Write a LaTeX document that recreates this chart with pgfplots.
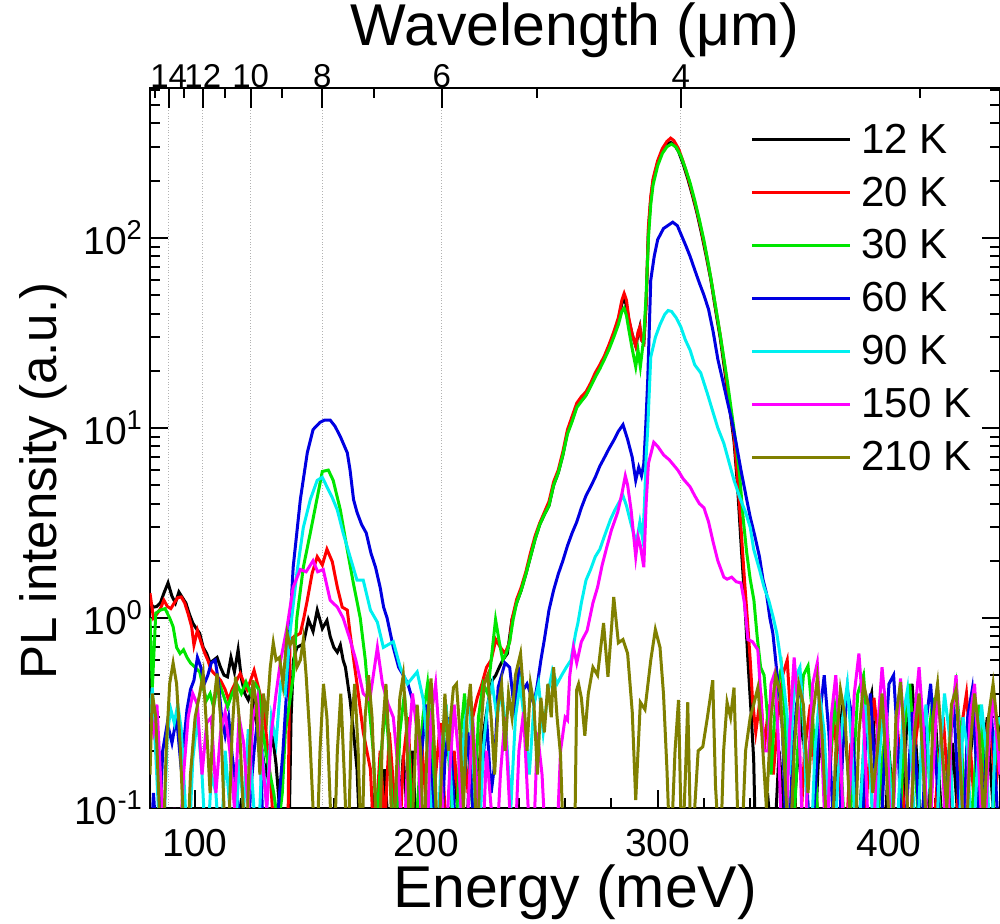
\documentclass[border=0pt]{standalone}
\usepackage{fontspec}
\setmainfont{Liberation Sans}
\usepackage{pgfplots}
\pgfplotsset{compat=1.18}
\definecolor{cBlack}{RGB}{0,0,0}
\definecolor{cRed}{RGB}{255,0,0}
\definecolor{cGreen}{RGB}{0,230,0}
\definecolor{cBlue}{RGB}{0,0,225}
\definecolor{cCyan}{RGB}{0,240,240}
\definecolor{cMag}{RGB}{255,0,255}
\definecolor{cOlive}{RGB}{128,128,0}
\begin{document}
\begin{tikzpicture}
\useasboundingbox (-75pt,-58pt) rectangle (425pt,404pt);
% top (wavelength) axis, drawn first so its grid stays behind the data
\begin{axis}[
  scale only axis, width=425pt, height=360pt,
  xmin=80.5, xmax=448, ymin=0, ymax=1,
  axis x line*=top, axis y line=none,
  axis line style={line width=1pt},
  every tick/.style={black, line width=1pt},
  xtick={88.571,103.333,124,155,206.667,310},
  xticklabels={14,12,10,8,6,4},
  minor xtick={82.667,95.385,112.727,137.778,177.143,248,413.333},
  xmajorgrids, major grid style={densely dotted, gray!60, line width=0.6pt},
  tick align=inside, major tick length=10pt, minor tick length=5pt,
  xticklabel style={font=\fontsize{16.5}{18}\selectfont, yshift=-3.5pt},
  xlabel={Wavelength (μm)},
  xlabel style={font=\fontsize{29.5}{33}\selectfont, at={(axis description cs:0.5,1)}, anchor=base, yshift=21pt, inner sep=0pt},
]
\end{axis}
\begin{axis}[
  scale only axis, width=425pt, height=360pt,
  xmin=80.5, xmax=448, ymode=log, ymin=0.1, ymax=615,
  axis line style={line width=1pt},
  every tick/.style={black, line width=1pt},
  major tick length=9pt, minor tick length=5pt, tick align=inside,
  xtick pos=left, ytick pos=both,
  xtick={100,200,300,400},
  minor xtick={120,140,160,180,220,240,260,280,320,340,360,380,420,440},
  ytick={0.1,1,10,100},
  yticklabels={10\textsuperscript{-1},10\textsuperscript{0},10\textsuperscript{1},10\textsuperscript{2}},
  minor ytick={0.2,0.3,0.4,0.5,0.6,0.7,0.8,0.9,2,3,4,5,6,7,8,9,20,30,40,50,60,70,80,90,200,300,400,500,600},
  /pgf/number format/assume math mode=true,
  ticklabel style={font=\fontsize{19.5}{22}\selectfont},
  xticklabel style={yshift=-7pt},
  xlabel={Energy (meV)}, ylabel={PL intensity (a.u.)},
  xlabel style={font=\fontsize{29.5}{33}\selectfont, at={(axis description cs:0.5,0)}, anchor=north, inner sep=0pt, yshift=-28pt},
  ylabel style={font=\fontsize{25.5}{29}\selectfont, at={(axis description cs:-0.125,0.454)}, anchor=center, inner sep=0pt},
  every axis plot/.append style={line width=1.5pt, no markers},
  legend style={draw=none, fill=none, at={(axis description cs:0.706,0.955)}, anchor=north west,
    font=\fontsize{21}{24}\selectfont, row sep=7.3pt, column sep=3.5pt, inner sep=0pt, nodes={inner sep=1.5pt}},
  legend cell align=left,
  legend image code/.code={\draw[#1] (0pt,0pt) -- (49pt,0pt);},
]
% 12 K
\addplot[cBlack] table {
80.5 1.2
82 1.14
83.5 1.15
85 1.2
86.5 1.35
88.3 1.53
90 1.3
91.5 1.2
93 1.37
94.5 1.28
96 1.2
97.5 1.05
99 0.94
100.5 0.88
102 0.83
103.5 0.7
105 0.65
106.5 0.58
108 0.6
109.5 0.62
111 0.55
112.5 0.5
114 0.49
115.5 0.62
117 0.52
118.6 0.68
120 0.48
121.5 0.4
123 0.37
124.5 0.42
126 0.3
127.5 0.25
129 0.2
130.5 0.15
132 0.19
133.5 0.24
135 0.17
136.5 0.1
138 0.06
139.5 0.05
140.5 0.06
141.5 0.3
142.5 0.6
144 0.7
146.8 0.73
149 0.98
151 0.85
152.8 1.1
155 0.88
157 0.97
158.4 0.8
160 0.7
161.5 0.66
162.8 0.72
164 0.6
165 0.55
167 0.37
168.5 0.25
170 0.16
171.5 0.06
173 0.05
175 0.05
177 0.12
179 0.05
182 0.16
184 0.06
187 0.05
190 0.19
192 0.08
194 0.2
196 0.06
199 0.05
202 0.14
204 0.05
207 0.12
209 0.05
212 0.17
214 0.08
217 0.05
219 0.22
221 0.1
223 0.18
224.7 0.25
226.5 0.35
228.5 0.47
230 0.5
231.5 0.55
233 0.6
235 0.65
237 0.98
239 1.2
241 1.4
243 1.7
245 2.1
247 2.6
249 3.1
251 3.5
253 3.9
255 5.0
257 5.8
259 7.2
261 9.5
263 11
265 13
267 14
269 15
271 16.8
273 19
275 21
277 23.5
279 27
281 31
283 37
284.5 45
285.5 48
286.5 44
287.5 37
289 31
290.5 27
291.5 31
292.3 34
293 29
294 28
295 45
296 110
297 160
298 200
300 250
302 285
304 310
305.6 318
307 312
309 285
311 245
313 205
315 168
317 135
319 105
321 80
323 60
325 42
327 30
329 20
331 13
333 8.5
334.5 5
336 2.5
337.5 1.3
339 0.6
340.5 0.3
341.5 0.18
342.5 0.05
345 0.05
347.5 0.12
350 0.05
352.5 0.2
355 0.08
357.5 0.05
360 0.15
362.5 0.3
365 0.1
367.5 0.05
370 0.25
372.5 0.12
375 0.05
377.5 0.18
380 0.35
382.5 0.15
385 0.05
387.5 0.1
390 0.3
392.5 0.4
395 0.12
397.5 0.05
400 0.2
402.5 0.08
405 0.05
407.5 0.25
410 0.45
412.5 0.15
415 0.05
417.5 0.12
420 0.3
422.5 0.1
425 0.05
427.5 0.22
430 0.08
432.5 0.05
435 0.18
437.5 0.35
440 0.15
442.5 0.3
445 0.1
448 0.2
};
\addlegendentry{12 K}
% 20 K
\addplot[cRed] table {
80.5 1.35
82 1.0
83.5 1.05
85 1.12
86.5 1.24
88 1.15
89.5 1.12
91 1.2
92.5 1.28
94 1.29
95.5 1.2
97 1.05
98.5 0.9
99.5 0.72
101 0.86
102.5 0.75
104 0.66
105.5 0.6
107 0.53
109 0.5
111 0.47
113 0.42
114.5 0.37
116 0.42
118 0.47
119.5 0.51
121 0.46
122.5 0.42
124 0.47
125.5 0.53
127 0.45
128.5 0.38
130 0.3
131.5 0.2
133 0.12
134.5 0.06
136 0.05
138 0.05
140 0.05
141 0.77
143 0.8
145.5 0.83
147 1.0
148.5 1.24
150.6 1.72
152.8 2.1
155 1.9
157 2.3
159.3 1.98
161.5 1.45
163.6 1.14
165.8 1.1
167 0.83
170 0.45
172.7 0.25
175.8 0.16
177.5 0.06
180 0.2
182 0.08
184 0.25
186 0.12
188 0.05
190 0.18
192 0.3
194 0.1
196 0.05
198 0.22
200 0.1
202 0.05
204 0.15
206 0.28
208 0.1
210 0.05
212 0.2
214 0.1
216 0.25
218 0.12
220 0.3
222 0.38
224 0.45
226 0.55
228 0.6
230 0.77
232 0.7
234 0.65
236 0.75
237 0.98
239 1.25
241 1.45
243 1.75
245 2.2
247 2.7
249 3.16
251 3.6
253 4.1
255 5.2
257 6.0
259 7.5
261 9.8
263 11.5
265 13.5
267 14.6
269 15.5
271 17.2
273 19.5
275 21.5
277 24
279 27.5
281 32
283 38
284.5 47
285.5 51
286.5 47
287.5 38
289 31
290.5 27
291.5 32
292.3 34
293 29
294 28
295 45
296 115
297 165
298 205
300 255
302 295
304 322
305.6 335
307 325
309 295
311 252
313 210
315 172
317 138
319 108
321 82
323 61
325 43
327 31
329 21
331 13.5
333 9
334.5 5.5
336 3
337.5 1.6
339 0.9
340 0.6
341 0.37
342.4 0.25
344.6 0.4
346 0.2
348 0.35
350 0.15
352 0.3
354 0.5
356 0.6
357.5 0.3
359 0.12
361 0.05
363.5 0.2
366 0.35
368.5 0.12
371 0.05
373.5 0.1
376 0.3
378.5 0.15
381 0.05
383.5 0.22
386 0.08
388.5 0.05
391 0.15
393.5 0.38
396 0.2
398.5 0.05
401 0.1
403.5 0.28
406 0.12
408.5 0.05
411 0.2
413.5 0.35
416 0.1
418.5 0.05
421 0.15
423.5 0.3
426 0.1
428.5 0.05
431 0.25
433.5 0.4
436 0.15
438.5 0.05
441 0.2
443.5 0.32
446 0.12
448 0.25
};
\addlegendentry{20 K}
% 30 K
\addplot[cGreen] table {
80.5 1.0
81.5 0.43
83 1.06
85 1.1
87 1.12
89 1.0
90.5 0.9
92 0.7
93.5 0.65
95 0.68
96.5 0.62
98 0.58
100 0.55
102 0.52
103.5 0.43
105 0.37
106.5 0.4
108 0.34
110 0.47
112 0.4
114 0.34
116 0.4
118 0.45
120 0.4
122 0.46
124 0.4
126 0.45
127.5 0.42
129 0.27
130.5 0.2
132 0.16
134 0.12
136 0.08
137.7 0.12
139 0.25
141 0.37
142.5 0.5
144 1.0
146.8 1.85
149.8 2.8
152.8 4.3
155 5.9
157.6 6.0
159.7 5.3
162.8 3.7
165.8 2.28
168.4 1.53
171.4 1.0
173.6 0.6
175 0.37
177 0.2
178.5 0.08
180.5 0.2
182.5 0.35
184.5 0.15
186.5 0.05
188.5 0.25
190.5 0.4
192.5 0.2
194.5 0.05
196.5 0.12
198.5 0.3
200.5 0.45
202.5 0.2
204.5 0.05
206.5 0.15
208.5 0.35
210.5 0.12
212.5 0.05
214.5 0.22
216.5 0.4
218.5 0.18
220.5 0.08
222.5 0.3
224.5 0.45
226.5 0.4
228 0.6
229.9 0.98
231.5 0.75
233 0.6
234.5 0.65
236 0.75
237.5 0.98
239 1.2
241 1.4
243 1.7
245 2.1
247 2.6
249 3.1
251 3.5
253 3.9
255 5.0
257 5.8
259 7.2
261 9.3
263 10.8
265 12.8
267 13.8
269 14.8
271 16.5
273 18.5
275 20.5
277 23
279 26
281 30
283 35
284.5 41
285.5 42.7
286.5 39
287.5 33
289 26
290.5 21
291.5 25.6
292.5 21
294 30
295 50
296 100
297 150
298 190
300 240
302 278
304 302
306 312
308 300
310 270
312 232
314 195
316 158
318 125
320 97
322 72
324 52
326 37
328 26
330 18
332 12
334 8
335.5 5.5
337 3.3
338.5 2.2
340 1.6
341.6 1.24
343 0.8
344.5 0.55
346 0.5
347.5 0.3
349 0.15
350.5 0.3
352 0.45
353.5 0.55
355 0.3
356.5 0.1
358 0.05
360.5 0.2
363 0.5
365 0.56
367 0.3
369 0.1
371.5 0.05
374 0.15
376.5 0.35
379 0.2
381.5 0.05
384 0.12
386.5 0.4
389 0.5
391.5 0.2
394 0.05
396.5 0.15
399 0.3
401.5 0.1
404 0.05
406.5 0.25
409 0.45
411.5 0.15
414 0.05
416.5 0.2
419 0.38
421.5 0.12
424 0.05
426.5 0.3
429 0.45
431.5 0.2
434 0.05
436.5 0.12
439 0.35
441.5 0.15
444 0.05
446.5 0.25
448 0.3
};
\addlegendentry{30 K}
% 60 K
\addplot[cBlue] table {
80.5 0.05
82 0.12
84 0.05
86 0.2
88 0.28
90 0.22
92 0.3
94 0.16
96.5 0.33
98 0.42
99.5 0.47
101 0.62
102.5 0.55
104 0.45
105.5 0.5
107 0.58
108.7 0.6
110 0.47
111.5 0.3
113 0.24
114.5 0.3
116 0.19
118 0.12
120 0.08
122 0.05
124 0.12
125.5 0.2
127 0.29
128.5 0.15
130 0.05
132 0.08
134 0.05
136 0.1
138 0.2
139.5 0.4
141 0.9
142.4 1.85
145.5 4.2
148.5 7.4
151 9.8
154 10.7
156 11
158.4 11
160.5 10.2
162.8 9.0
165.8 7.4
167 6.0
168.5 4.2
170 3.6
172 3.1
174 2.8
176 2.2
178 1.85
180 1.45
181.5 1.14
183 1.0
185.7 0.7
188 0.55
190 0.5
192 0.45
194 0.37
196 0.3
198 0.2
200 0.35
202 0.15
204 0.06
206 0.05
208 0.18
210 0.3
212 0.1
214 0.05
216 0.12
218 0.25
220 0.1
222 0.05
224 0.15
226 0.3
228 0.12
229.5 0.17
231 0.43
232.5 0.5
234 0.58
236 0.55
238 0.33
240 0.53
242 0.42
243.5 0.45
245 0.4
246.5 0.35
248 0.45
249.5 0.6
251 0.77
253 1.1
255 1.4
257 1.7
259 2.0
261 2.4
263 2.8
265 3.2
267 3.8
269 4.4
271 4.9
273 5.5
275 6.3
277 7.0
279 7.8
281 8.6
283 9.6
285 10.4
287 8.7
289 7.0
290.5 5.3
291.8 6.2
293 5.6
294 6.5
294.8 10
295.7 18
297 60
298.5 80
300 98
302.5 112
306.5 121
308.5 116
310 105
312 92
314 80
316 68
318 58
320 50
322 42
324 32
326 23
328 18
330 14
332 11
334 8.2
336 6.0
338 4.5
340 3.4
342 2.7
344 2.1
345.5 1.6
347 1.35
348.5 1.0
349.8 0.83
351 0.6
352 0.45
353 0.37
354 0.25
355 0.1
356.5 0.05
358 0.15
360 0.35
362 0.45
364 0.2
366 0.05
368 0.12
370 0.3
372 0.5
374 0.25
376 0.08
378 0.05
380 0.2
382 0.42
384 0.3
386 0.1
388 0.05
390 0.25
392 0.4
394 0.15
396 0.05
398 0.18
400 0.45
402 0.5
404 0.2
406 0.05
408 0.12
410 0.32
412 0.15
414 0.05
416 0.28
418 0.45
420 0.2
422 0.08
424 0.05
426 0.2
428 0.35
430 0.12
432 0.05
434 0.3
436 0.42
438 0.15
440 0.05
442 0.2
444 0.35
446 0.15
448 0.05
};
\addlegendentry{60 K}
% 90 K
\addplot[cCyan] table {
80.5 0.3
81.5 0.43
83 0.19
84.5 0.08
86 0.05
88 0.25
89.5 0.33
91 0.28
92.5 0.35
94 0.26
95.5 0.12
97 0.05
99 0.18
101 0.3
103 0.15
105 0.05
107 0.15
109 0.12
111 0.05
113 0.2
115 0.1
117 0.05
119 0.18
121 0.1
123 0.26
125 0.12
127 0.05
129 0.2
131 0.1
133 0.3
135 0.22
137 0.45
139 0.4
141 0.83
144 1.72
146.8 3.0
149.8 4.2
152.8 5.3
155 5.5
157 4.9
159.3 4.3
161.5 3.7
164 2.8
167 2.1
170 1.58
172.7 1.58
175.8 1.1
178.8 0.95
181.4 0.7
185.7 0.75
188.7 0.55
191.8 0.45
196 0.52
198.7 0.37
200.5 0.2
202.5 0.08
204.5 0.05
206.5 0.2
208.5 0.35
210.5 0.15
212.5 0.05
214.5 0.1
216.5 0.28
218.5 0.38
220.5 0.15
222.5 0.05
224.5 0.2
226.5 0.35
228.5 0.45
230.5 0.3
232.5 0.42
234.5 0.25
236.5 0.1
238.5 0.3
240.5 0.45
242.5 0.28
244.5 0.15
246.5 0.35
248.5 0.45
250.5 0.25
252.5 0.4
254.5 0.53
256.5 0.45
258.5 0.5
260.5 0.55
262.5 0.6
264.5 0.83
265.5 0.94
267 1.2
269 1.58
271 1.8
273 2.1
275 2.3
277 2.7
279.6 3.3
281.5 3.7
283 4.0
285 4.4
286.5 3.9
288 3.3
289.5 2.8
290.5 2.6
291.3 2.7
292.3 3.2
293.5 2.6
294.3 4
295 7
295.7 10
297 23.6
299 30
301 35
303 39.5
304.5 41.5
306 41
308 38
310 34
312 29
314 25.7
316 21.5
318.6 19.5
321.6 15
324 12
326 10
328.6 8.3
331 6.5
333 5.3
335.5 4.3
338 3.6
340 3.0
341.5 2.3
344 1.8
346 1.45
348 1.24
350 1.0
351.5 0.83
352.8 0.65
354.5 0.45
356 0.3
357 0.15
358.5 0.35
360 0.5
361.5 0.55
363 0.3
364.5 0.1
366 0.05
368 0.2
370 0.4
372 0.25
374 0.08
376 0.05
378 0.15
380 0.3
382 0.45
384 0.2
386 0.05
388 0.12
390 0.35
392 0.15
394 0.05
396 0.2
398 0.38
400 0.18
402 0.05
404 0.1
406 0.3
408 0.42
410 0.15
412 0.05
414 0.22
416 0.35
418 0.1
420 0.05
422 0.18
424 0.4
426 0.25
428 0.08
430 0.05
432 0.3
434 0.2
436 0.05
438 0.15
440 0.35
442 0.2
444 0.05
446 0.25
448 0.3
};
\addlegendentry{90 K}
% 150 K
\addplot[cMag] table {
80.5 0.3
82 0.25
83.5 0.35
85 0.15
87 0.06
89 0.05
91 0.1
93 0.05
95 0.15
97 0.3
99 0.4
101 0.35
103 0.15
105 0.28
107 0.3
109 0.12
111 0.25
113 0.32
115 0.2
117 0.1
119 0.3
121 0.22
123 0.1
125 0.3
127 0.38
129 0.18
131 0.1
133 0.25
135 0.4
137 0.6
139.8 0.9
142.4 1.45
145.5 1.8
148 1.75
151 2.0
153 1.75
155.4 1.8
158.4 1.24
161.5 1.14
164 1.0
167 0.77
169.5 0.6
172.7 0.4
175.5 0.37
178.8 0.7
181 0.45
183.5 0.35
185.7 0.3
188 0.15
190 0.05
192 0.2
194 0.4
196 0.25
198 0.08
200 0.05
202 0.3
204 0.45
206 0.2
208 0.05
210 0.15
212 0.35
214 0.18
216 0.05
218 0.1
220 0.3
222 0.12
224 0.05
226 0.2
228 0.1
230 0.05
232 0.15
234 0.3
236 0.1
238 0.05
240 0.2
242 0.32
244 0.1
246 0.05
248 0.25
250 0.15
252 0.05
254 0.1
256 0.05
258 0.2
260 0.3
261 0.29
262 0.5
263.6 0.7
265 0.58
267 0.75
269.5 0.86
272 1.2
274 1.45
276 1.9
278 2.36
280 2.9
282.7 3.6
284.5 4.5
286 5.6
287 5.0
288.5 3.7
289.5 2.8
290.5 2.1
291.5 2.67
292.5 2.4
294 1.85
295 4
296 6.5
298.3 8.4
300 8.0
302.6 7.2
305 6.8
308.7 6.0
311 5.4
314 4.9
316 4.4
318 4.0
320 3.8
322 3.2
324 2.5
326 2.0
328.6 1.64
330 1.6
332 1.64
334 1.55
336 1.53
337.5 1.2
339 0.77
341 0.75
343.3 0.68
344.5 0.4
346 0.2
347.6 0.2
349 0.45
350.5 0.51
352 0.25
353.5 0.08
355 0.05
357 0.25
359 0.62
361 0.3
363 0.05
365 0.15
367 0.45
369 0.58
371 0.2
373 0.05
375 0.3
377 0.5
379 0.2
381 0.05
383 0.12
385 0.4
387 0.65
389 0.3
391 0.08
393 0.05
395 0.25
397 0.55
399 0.3
401 0.05
403 0.2
405 0.48
407 0.2
409 0.05
411 0.3
413 0.55
415 0.25
417 0.05
419 0.15
421 0.42
423 0.2
425 0.05
427 0.28
429 0.5
431 0.15
433 0.05
435 0.3
437 0.45
439 0.15
441 0.05
443 0.2
445 0.4
448 0.15
};
\addlegendentry{150 K}
% 210 K
\addplot[cOlive] table {
80.5 0.15
81.5 0.4
83 0.3
84.5 0.1
86 0.05
87.5 0.2
89 0.45
90.5 0.58
92 0.45
93.5 0.22
95 0.08
96.5 0.05
98 0.15
100 0.3
102 0.4
103.5 0.51
105 0.26
106.5 0.12
108 0.35
109.5 0.51
111 0.3
112.5 0.1
114 0.05
116 0.25
117.5 0.49
119 0.3
120.5 0.12
122 0.05
123.5 0.2
125 0.47
126.5 0.35
128 0.15
129.5 0.4
131 0.3
132.5 0.55
133.8 0.74
135 0.6
136.5 0.62
138 0.45
139.8 0.83
141 0.72
142.5 0.78
144 0.55
145.5 0.6
146.8 0.77
148 0.5
149.5 0.25
151 0.1
152.5 0.05
154 0.2
155.5 0.45
157 0.3
158.5 0.1
160 0.05
161.5 0.2
163 0.4
164.5 0.15
166 0.05
167.5 0.25
169 0.45
170.5 0.2
172 0.05
173.5 0.3
175 0.5
176.5 0.3
178 0.1
179.5 0.05
181 0.25
182.5 0.45
184 0.2
185.5 0.05
187 0.15
188.5 0.38
190 0.5
191.5 0.25
193 0.05
194.5 0.12
196 0.35
197.5 0.2
199 0.05
200.5 0.3
202 0.48
203.5 0.2
205 0.05
206.5 0.15
208 0.4
209.5 0.2
210.5 0.3
211.7 0.43
213 0.45
214.5 0.25
216 0.1
217.5 0.3
219 0.45
220.5 0.2
222 0.05
223.5 0.25
225 0.45
226.5 0.5
228 0.3
229.5 0.15
231 0.35
232.5 0.45
234 0.2
235.5 0.4
237 0.3
238.5 0.5
240.7 0.65
242 0.4
243.5 0.2
245 0.45
246.5 0.35
248 0.15
249.5 0.38
251 0.25
252.5 0.45
254 0.3
255 0.55
256.5 0.3
258 0.19
259.5 0.05
262 0.03
264 0.05
265 0.42
265.8 0.45
267 0.38
268.5 0.24
270 0.4
272 0.55
274 0.5
276.6 0.94
278.5 0.49
281 1.29
283 0.74
285 0.77
287 0.65
289 0.32
290.5 0.11
292.5 0.36
294.5 0.33
297 0.6
299 0.87
301 0.7
302.5 0.4
304 0.16
305.5 0.05
307.5 0.2
309 0.37
310.5 0.05
312 0.15
313 0.36
314.5 0.05
316 0.1
317.5 0.2
319.5 0.21
321.5 0.3
323.8 0.47
325 0.13
327 0.05
328.5 0.2
330 0.36
331.5 0.3
333 0.43
334.5 0.1
336 0.05
338 0.2
340 0.3
341.5 0.35
343.3 0.43
345 0.25
347 0.1
349 0.3
351 0.5
353 0.4
355 0.15
357 0.05
359 0.2
361 0.45
363 0.35
365 0.12
367 0.3
369 0.48
371 0.25
373 0.08
375 0.05
377 0.2
379 0.42
381 0.3
383 0.1
385 0.05
387 0.25
389 0.45
391 0.35
393 0.12
395 0.2
397 0.4
399 0.15
401 0.05
403 0.3
405 0.46
407 0.2
409 0.05
411 0.25
413 0.4
415 0.15
417 0.05
419 0.3
421 0.45
423 0.2
425 0.1
427 0.35
429 0.42
431 0.15
433 0.05
435 0.2
437 0.4
439 0.25
441 0.08
443 0.3
445 0.45
448 0.2
};
\addlegendentry{210 K}
\end{axis}
\end{tikzpicture}
\end{document}
